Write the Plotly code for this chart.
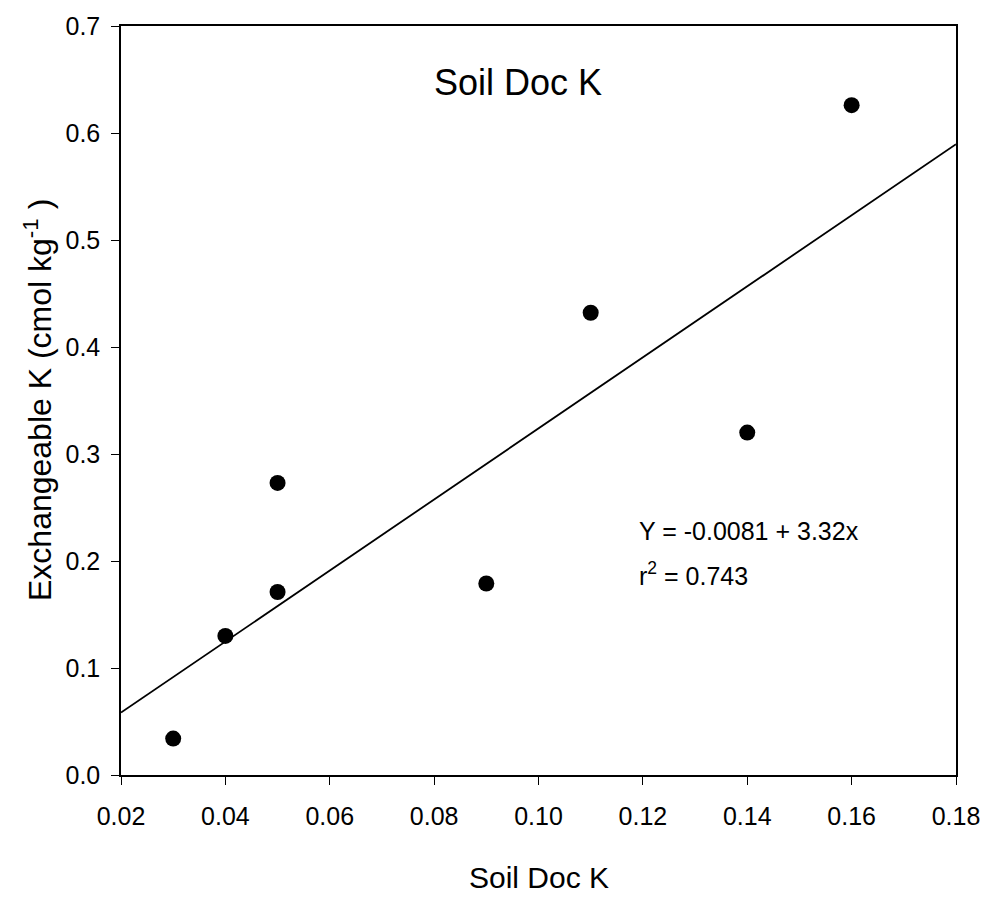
import plotly.graph_objects as go

# Data
soil_doc_k = [0.03, 0.04, 0.05, 0.05, 0.09, 0.11, 0.14, 0.16]
exch_k = [0.034, 0.130, 0.171, 0.273, 0.179, 0.432, 0.320, 0.626]

intercept = -0.0081
slope = 3.32
x_range = [0.02, 0.18]
y_range = [0.0, 0.7]
x_ticks = [0.02, 0.04, 0.06, 0.08, 0.10, 0.12, 0.14, 0.16, 0.18]
y_ticks = [0.0, 0.1, 0.2, 0.3, 0.4, 0.5, 0.6, 0.7]

FONT = "Liberation Sans, Arial, sans-serif"

fit_x = x_range
fit_y = [intercept + slope * v for v in fit_x]

fig = go.Figure()
fig.add_trace(go.Scatter(x=fit_x, y=fit_y, mode="lines",
                         line=dict(color="black", width=1.8),
                         showlegend=False, hoverinfo="skip"))
fig.add_trace(go.Scatter(x=soil_doc_k, y=exch_k, mode="markers",
                         marker=dict(color="black", size=16, symbol="circle"),
                         showlegend=False))

axis_common = dict(showline=True, linecolor="black", linewidth=1.5, mirror=True,
                   ticks="outside", ticklen=8, tickwidth=1.2, tickcolor="black",
                   showgrid=False, zeroline=False,
                   tickfont=dict(family=FONT, size=25, color="black"))

fig.update_xaxes(range=x_range, tickvals=x_ticks, tickformat=".2f",
                 ticklabelstandoff=10, **axis_common)
fig.update_yaxes(range=y_range, tickvals=y_ticks, tickformat=".1f",
                 ticklabelstandoff=6, **axis_common)

fig.add_annotation(text="Soil Doc K", xref="paper", yref="paper", x=0.475, y=0.925,
                   showarrow=False, font=dict(family=FONT, size=36, color="black"),
                   xanchor="center", yanchor="middle")
fig.add_annotation(text="Y = -0.0081 + 3.32x",
                   xref="paper", yref="paper", x=0.618, y=0.326,
                   showarrow=False, align="left",
                   font=dict(family=FONT, size=25, color="black"),
                   xanchor="left", yanchor="middle")
fig.add_annotation(text="r<sup>2</sup> = 0.743",
                   xref="paper", yref="paper", x=0.618, y=0.269,
                   showarrow=False, align="left",
                   font=dict(family=FONT, size=25, color="black"),
                   xanchor="left", yanchor="middle")
fig.add_annotation(text="Soil Doc K", xref="paper", yref="paper", x=0.5, y=-0.137,
                   showarrow=False, font=dict(family=FONT, size=30, color="black"),
                   xanchor="center", yanchor="middle")
fig.add_annotation(text="Exchangeable K (cmol kg<sup>-1</sup> )", xref="paper", yref="paper",
                   x=-0.1, y=0.5, textangle=-90,
                   showarrow=False, font=dict(family=FONT, size=32, color="black"),
                   xanchor="center", yanchor="middle")

fig.update_layout(width=992, height=901, paper_bgcolor="white", plot_bgcolor="white",
                  margin=dict(l=121, r=30, t=23, b=126))

fig.write_html("out.html")
